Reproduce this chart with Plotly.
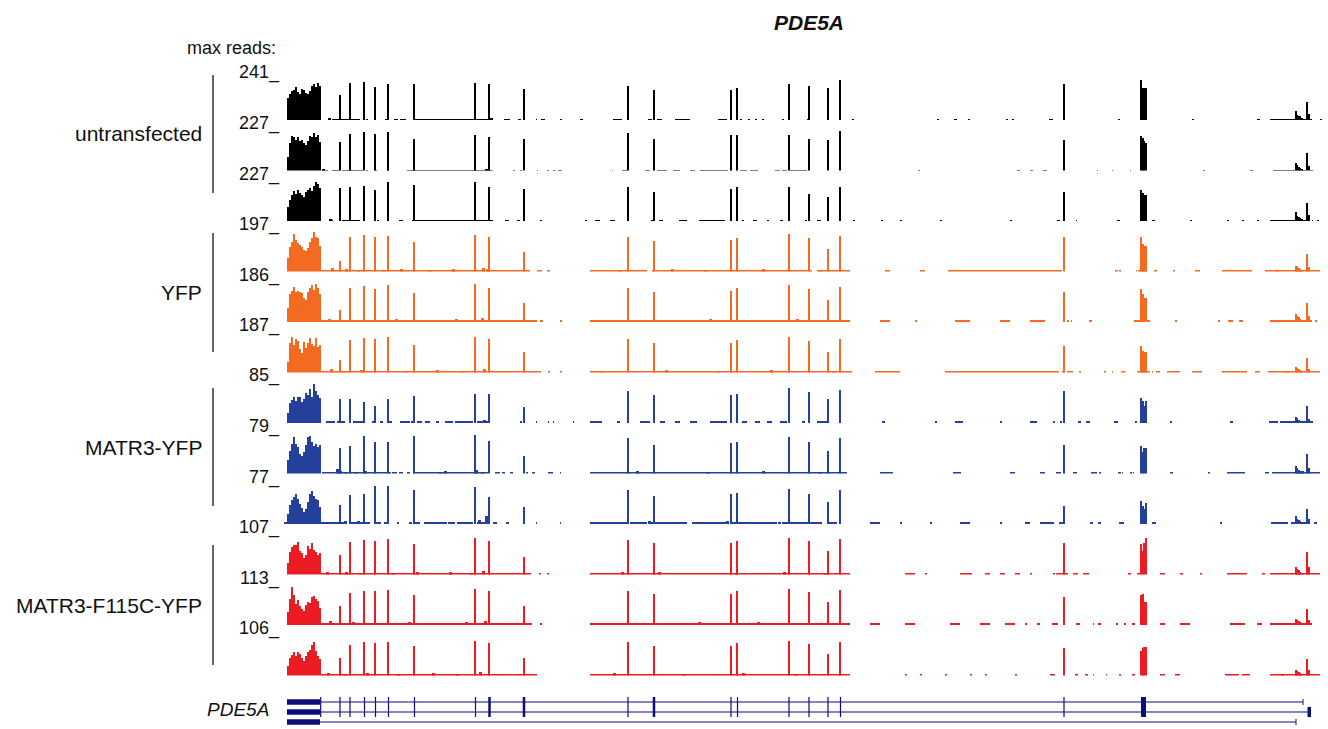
import plotly.graph_objects as go

# ---------------------------------------------------------------------------
# Data: RNA-seq read coverage over the PDE5A locus.
# Positions are in kb from the left edge of the locus; coverage values are
# given as percent of each track's maximum (max_reads).
# ---------------------------------------------------------------------------
track_groups = ["untransfected", "YFP", "MATR3-YFP", "MATR3-F115C-YFP"]
group_colors = ["#000000", "#F26B21", "#24409A", "#EC1C24"]
reps_per_group = 3

max_reads = [241, 227, 227, 197, 186, 187, 85, 79, 77, 107, 113, 106]

# terminal exon (long block at the left), 0.2 kb bins starting at 0 kb
block_bin_kb = 0.2
block_cov = [
    [56, 64, 72, 75, 82, 70, 66, 78, 75, 68, 64, 72, 84, 90, 82, 92, 86],
    [36, 70, 88, 84, 78, 86, 75, 78, 70, 66, 74, 88, 84, 94, 86, 90, 72],
    [36, 52, 64, 74, 68, 78, 70, 64, 60, 72, 78, 82, 74, 88, 97, 92, 82],
    [35, 62, 74, 94, 80, 72, 68, 62, 54, 52, 60, 76, 86, 99, 88, 84, 64],
    [36, 70, 78, 88, 74, 78, 76, 72, 60, 56, 74, 84, 92, 80, 95, 86, 70],
    [28, 76, 90, 70, 84, 80, 60, 50, 78, 62, 76, 88, 72, 68, 88, 66, 70],
    [24, 50, 58, 66, 56, 66, 64, 52, 60, 74, 70, 86, 66, 98, 80, 70, 62],
    [34, 58, 74, 92, 76, 68, 50, 44, 56, 72, 92, 96, 80, 70, 76, 68, 72],
    [26, 48, 60, 68, 76, 62, 50, 40, 30, 38, 56, 74, 82, 70, 62, 60, 42],
    [30, 58, 70, 76, 74, 82, 60, 56, 42, 50, 72, 66, 80, 62, 58, 50, 56],
    [32, 64, 96, 74, 52, 62, 48, 40, 36, 50, 58, 54, 70, 72, 66, 60, 42],
    [24, 44, 52, 60, 50, 60, 56, 44, 38, 50, 60, 66, 78, 86, 62, 50, 42],
]

# internal exons: positions (kb), exon width in the gene model (kb)
exon_kb = [5.3, 6.3, 7.75, 8.85, 10.15, 12.75, 18.85, 20.25, 23.7,
           34.1, 36.7, 44.4, 45.05, 50.2, 52.2, 54.1, 55.35, 77.7]
exon_width_kb = [0.12, 0.12, 0.12, 0.12, 0.12, 0.12, 0.12, 0.25, 0.25,
                 0.12, 0.25, 0.12, 0.12, 0.12, 0.12, 0.12, 0.12, 0.12]
exon_cov = [
    [63, 92, 95, 83, 89, 89, 92, 89, 77, 85, 76, 76, 81, 91, 85, 80, 99, 89],
    [72, 93, 98, 92, 98, 81, 89, 84, 81, 95, 79, 91, 91, 89, 81, 77, 99, 77],
    [83, 85, 88, 77, 98, 91, 98, 85, 80, 85, 73, 80, 85, 85, 67, 60, 85, 72],
    [28, 88, 93, 88, 90, 75, 92, 88, 50, 88, 78, 80, 86, 94, 84, 58, 90, 87],
    [30, 85, 90, 82, 92, 72, 95, 86, 48, 85, 76, 78, 84, 92, 82, 55, 88, 74],
    [32, 82, 88, 84, 90, 70, 90, 84, 52, 84, 74, 76, 82, 90, 80, 52, 86, 68],
    [59, 61, 53, 42, 61, 67, 73, 73, 40, 80, 70, 70, 72, 88, 78, 60, 82, 81],
    [65, 71, 95, 79, 79, 95, 98, 83, 45, 90, 72, 78, 80, 92, 80, 58, 90, 72],
    [47, 72, 76, 96, 96, 84, 93, 67, 42, 85, 70, 74, 78, 88, 76, 55, 86, 45],
    [50, 82, 88, 85, 90, 78, 92, 86, 45, 88, 80, 80, 86, 92, 84, 60, 90, 79],
    [48, 80, 86, 84, 88, 76, 90, 84, 48, 86, 78, 78, 84, 90, 82, 58, 88, 71],
    [46, 78, 84, 82, 86, 74, 88, 82, 46, 84, 76, 76, 82, 88, 80, 56, 86, 71],
]

# wide exon near the 5' end, sub-bins (kb)
wide_exon_kb = [85.45, 85.6, 85.75, 85.9]
wide_exon_cov = [
    [100, 79, 79, 79], [88, 83, 76, 70], [77, 69, 65, 65],
    [87, 69, 66, 66], [82, 69, 60, 60], [68, 56, 53, 53],
    [62, 54, 42, 54], [71, 55, 66, 66], [57, 45, 37, 53],
    [77, 60, 79, 93], [74, 77, 57, 57], [62, 69, 72, 72],
]

# first exon / promoter-proximal cluster at the right end (kb)
tail_kb = [100.9, 101.05, 101.2, 101.35, 101.5, 102.05, 102.2]
tail_cov = [
    [23, 12, 10, 10, 4, 44, 14],
    [21, 14, 10, 8, 4, 45, 12],
    [22, 12, 9, 8, 4, 45, 14],
    [16, 14, 10, 8, 4, 46, 12],
    [19, 14, 12, 8, 4, 48, 14],
    [14, 12, 9, 8, 4, 38, 10],
    [16, 12, 8, 6, 4, 43, 10],
    [21, 14, 10, 8, 4, 50, 16],
    [21, 12, 10, 8, 4, 38, 12],
    [21, 16, 12, 8, 6, 58, 20],
    [16, 12, 10, 8, 4, 40, 12],
    [15, 12, 10, 8, 4, 43, 14],
]

# low intronic coverage: [start_kb, end_kb] intervals and level (% of max)
background_pct = [2.5, 2.5, 2.5, 5, 5, 5, 4, 4.5, 4.5, 5, 5, 5]
background = [
    [[4.1, 4.3], [4.5, 7.3], [7.9, 8.1], [8.7, 8.9], [9.8, 10.1], [10.7, 11.1],
     [11.3, 11.9], [12.8, 20.6], [21.7, 22.3], [23.1, 23.4], [24.9, 25.0],
     [25.4, 25.8], [27.3, 27.5], [29.3, 29.6], [32.6, 33.5], [36.1, 36.5],
     [37.0, 37.5], [38.8, 40.3], [43.1, 44.0], [45.3, 45.5], [46.1, 46.3],
     [46.8, 47.0], [47.5, 47.7], [49.5, 49.7], [52.0, 52.3], [56.5, 56.7],
     [65.0, 65.2], [66.7, 67.0], [68.1, 68.3], [71.9, 72.1], [72.5, 72.7],
     [76.2, 76.6], [83.1, 83.3], [90.5, 90.7], [97.0, 97.3], [98.3, 100.9],
     [101.6, 102.0], [102.2, 102.5], [103.3, 103.5]],
    [[3.5, 4.1], [4.5, 5.3], [5.5, 7.6], [7.9, 8.1], [8.8, 9.0], [10.0, 10.2],
     [12.0, 20.6], [22.6, 22.8], [23.3, 23.5], [25.0, 25.1], [26.0, 26.2],
     [26.6, 26.8], [27.1, 27.5], [32.5, 32.6], [33.5, 34.0], [35.8, 36.3],
     [37.0, 38.0], [38.6, 39.3], [40.3, 40.8], [41.3, 44.1], [45.3, 46.0],
     [46.3, 47.1], [48.8, 49.3], [49.5, 50.0], [50.3, 52.0], [63.1, 63.3],
     [73.0, 73.3], [74.3, 74.6], [75.6, 76.0], [81.0, 81.1], [82.5, 82.6],
     [84.3, 84.4], [91.6, 91.8], [96.3, 96.6], [98.6, 100.8], [101.5, 101.9],
     [102.3, 102.6]],
    [[4.2, 4.6], [5.5, 7.3], [9.0, 9.2], [11.2, 11.6], [12.5, 20.6], [21.8, 22.2],
     [23.0, 23.3], [25.3, 25.5], [29.8, 30.0], [30.8, 31.3], [32.3, 32.8],
     [36.4, 36.8], [37.2, 37.6], [39.2, 40.0], [41.2, 43.8], [45.5, 45.7],
     [46.6, 47.0], [48.0, 48.2], [49.3, 49.6], [51.8, 52.0], [53.0, 53.4],
     [56.6, 56.8], [59.4, 59.6], [61.3, 61.5], [65.3, 65.5], [72.3, 72.5],
     [77.0, 77.3], [78.9, 79.0], [83.0, 83.3], [86.5, 86.8], [90.3, 90.5],
     [94.0, 94.2], [95.5, 95.7], [97.0, 97.2], [98.3, 100.9], [101.5, 102.0],
     [102.5, 102.6], [103.0, 103.2]],
    [[3.4, 24.3], [25.0, 25.5], [26.0, 26.3], [30.3, 36.0], [36.5, 52.5],
     [53.0, 56.3], [59.8, 60.3], [63.3, 63.8], [66.1, 77.5], [82.8, 83.1],
     [83.2, 83.4], [84.9, 85.0], [85.1, 86.0], [86.7, 87.0], [88.6, 88.8],
     [90.8, 91.3], [93.5, 96.5], [97.8, 103.3]],
    [[3.4, 25.0], [25.3, 25.6], [27.3, 27.5], [30.3, 56.3], [59.3, 60.3],
     [62.8, 63.0], [66.8, 68.3], [71.3, 72.3], [74.3, 75.8], [78.0, 78.2],
     [78.4, 78.5], [80.2, 80.5], [84.7, 86.3], [88.8, 89.0], [93.1, 93.3],
     [94.1, 94.6], [95.2, 95.6], [98.3, 102.5], [102.8, 103.0]],
    [[3.4, 25.4], [26.1, 26.3], [27.3, 27.5], [30.3, 56.5], [58.8, 61.3],
     [65.8, 77.2], [77.5, 77.8], [78.0, 78.6], [79.2, 79.4], [81.7, 81.9],
     [82.5, 82.6], [83.4, 83.8], [85.0, 86.3], [86.5, 86.6], [86.9, 87.3],
     [88.0, 89.3], [90.5, 91.5], [93.5, 96.0], [96.8, 97.3], [98.1, 103.3]],
    [[3.9, 4.8], [5.0, 5.8], [6.6, 7.6], [8.5, 8.8], [9.3, 9.6], [10.2, 10.5],
     [11.3, 12.3], [12.4, 12.7], [13.0, 13.5], [13.8, 14.3], [14.9, 15.2],
     [15.8, 16.6], [16.8, 18.6], [19.0, 20.1], [23.3, 23.5], [24.9, 25.0],
     [26.1, 26.2], [26.6, 26.7], [28.6, 28.7], [30.3, 31.5], [33.0, 33.3],
     [35.3, 36.3], [37.3, 37.8], [38.8, 39.3], [40.3, 41.0], [42.3, 44.0],
     [45.5, 46.0], [46.8, 47.3], [48.0, 48.5], [49.3, 50.0], [51.5, 51.8],
     [53.0, 54.0], [59.5, 59.8], [64.8, 65.0], [66.8, 67.6], [71.3, 71.5],
     [74.3, 75.0], [76.6, 76.8], [77.3, 77.5], [79.1, 79.4], [79.9, 80.3],
     [82.7, 83.1], [84.8, 85.0], [88.3, 88.5], [94.3, 94.6], [98.2, 99.1],
     [99.3, 102.6]],
    [[3.5, 10.4], [10.5, 11.0], [11.2, 11.6], [12.0, 12.3], [12.6, 20.1],
     [20.8, 21.3], [21.5, 21.8], [22.3, 22.6], [23.9, 24.1], [24.5, 24.8],
     [26.1, 26.6], [27.3, 27.4], [30.3, 56.0], [59.3, 60.6], [66.6, 67.4],
     [72.3, 72.8], [75.3, 75.8], [76.9, 77.4], [78.6, 79.0], [80.4, 81.0],
     [81.2, 81.4], [83.1, 83.4], [83.5, 83.6], [84.3, 84.5], [84.6, 84.7],
     [88.3, 88.6], [92.1, 92.3], [94.0, 95.8], [97.8, 98.2], [98.5, 103.3]],
    [[-0.3, 0.1], [3.4, 5.2], [5.3, 6.0], [6.4, 7.3], [7.3, 8.3], [8.8, 9.4],
     [9.7, 10.1], [11.0, 11.2], [12.2, 12.5], [12.6, 13.3], [13.7, 14.8],
     [15.0, 16.0], [16.1, 16.8], [17.0, 18.6], [19.0, 20.3], [20.6, 21.0],
     [21.9, 22.2], [24.9, 25.0], [27.3, 27.4], [30.3, 34.0], [34.3, 36.0],
     [36.4, 40.0], [40.5, 44.0], [44.5, 49.0], [49.5, 53.5], [54.0, 55.0],
     [58.3, 59.3], [61.3, 61.5], [64.3, 64.5], [67.3, 68.3], [71.3, 71.5],
     [73.8, 74.3], [75.3, 76.7], [77.2, 77.8], [80.3, 80.6], [81.1, 81.4],
     [83.2, 83.7], [86.5, 86.9], [93.3, 93.5], [98.4, 100.1], [100.4, 102.3],
     [102.7, 103.0]],
    [[3.4, 24.4], [25.2, 25.4], [26.0, 26.2], [30.3, 56.3], [61.8, 62.8],
     [63.8, 64.0], [67.3, 68.5], [69.8, 70.3], [71.3, 71.8], [72.8, 73.3],
     [74.3, 74.5], [76.6, 76.8], [76.9, 78.1], [78.6, 79.1], [79.6, 80.2],
     [84.1, 84.4], [85.0, 85.3], [87.3, 87.8], [89.3, 89.6], [91.3, 91.5],
     [94.0, 96.0], [97.5, 97.8], [98.3, 103.3]],
    [[3.4, 24.5], [25.3, 25.5], [30.3, 56.3], [58.3, 59.3], [61.8, 62.8],
     [66.3, 67.3], [69.3, 70.3], [71.8, 72.8], [73.8, 74.0], [75.0, 75.3],
     [76.5, 77.1], [78.9, 79.3], [80.6, 80.7], [81.1, 81.4], [82.9, 83.1],
     [83.7, 83.9], [84.5, 84.8], [87.3, 87.8], [89.3, 90.3], [94.3, 95.8],
     [97.0, 97.5], [98.3, 102.5]],
    [[3.4, 25.0], [30.3, 56.3], [61.8, 62.0], [63.3, 63.5], [65.8, 66.0],
     [68.3, 68.5], [69.8, 70.0], [72.8, 73.0], [76.3, 76.8], [78.8, 79.1],
     [79.8, 80.1], [80.6, 80.7], [81.9, 82.0], [83.2, 83.4], [84.5, 84.8],
     [87.3, 87.8], [88.8, 89.3], [93.8, 95.2], [95.5, 96.3], [98.3, 103.3]],
]

# small intronic read pile-ups: [position_kb, % of max]
bumps = [
    [[4.2, 5], [20.4, 6]],
    [[3.6, 5], [19.9, 6]],
    [[4.3, 5]],
    [[4.5, 9], [5.9, 7], [7.1, 6], [9.6, 6], [11.4, 7], [14.2, 6], [16.6, 8],
     [19.6, 10], [20.0, 7], [33.2, 6], [38.5, 7], [41.8, 6], [47.6, 8],
     [53.3, 6], [99.0, 6]],
    [[4.2, 8], [6.0, 6], [8.2, 6], [10.9, 7], [13.5, 6], [16.9, 7], [19.5, 9],
     [32.0, 6], [39.0, 6], [42.3, 7], [46.5, 6], [51.0, 7]],
    [[4.4, 9], [5.6, 6], [7.4, 7], [11.8, 6], [15.0, 7], [17.6, 6], [19.7, 10],
     [31.5, 6], [37.9, 7], [43.1, 6], [48.4, 8], [54.6, 6], [100.0, 6]],
    [[4.2, 6], [5.5, 6], [19.7, 8]],
    [[5.0, 12], [5.3, 8], [5.8, 6], [6.8, 6], [7.8, 8], [15.3, 6], [15.8, 8],
     [18.9, 10], [19.5, 6], [35.0, 8], [42.0, 6], [47.6, 7], [53.3, 6],
     [101.5, 8]],
    [[5.8, 8], [7.1, 8], [7.5, 6], [14.8, 6], [17.3, 6], [19.2, 10],
     [19.9, 20], [20.1, 14], [36.2, 7], [44.0, 7], [49.2, 6]],
    [[4.0, 8], [5.9, 7], [7.3, 6], [10.6, 6], [13.0, 8], [16.3, 7], [18.4, 6],
     [19.6, 11], [33.5, 7], [37.2, 8], [44.9, 6], [49.7, 7], [53.8, 6]],
    [[4.3, 9], [6.6, 7], [9.4, 6], [12.2, 7], [15.7, 6], [17.9, 8], [19.8, 10],
     [34.8, 6], [41.2, 8], [47.1, 7], [52.8, 6]],
    [[4.1, 8], [5.7, 6], [8.0, 7], [11.1, 6], [14.6, 8], [17.0, 6], [19.3, 9],
     [32.7, 7], [39.6, 6], [45.6, 8], [50.8, 6], [99.5, 6]],
]

# gene model (three transcripts); kb coordinates
utr_block_kb = [0.0, 3.3]
first_coding_exon_kb = 3.37
wide_exon_span_kb = [85.4, 85.9]
transcript_end_kb = [101.6, 102.1, 100.9]
transcript_has_exons = [True, True, False]

# ---------------------------------------------------------------------------
# Layout geometry (pixels of the 1328 x 729 canvas)
# ---------------------------------------------------------------------------
W, H = 1328, 729
X0_PX, X1_PX = 282, 1324           # plotting area
KB_PER_PX = 0.1
ORIGIN_PX = 287                    # pixel of 0 kb
TRACK_BASE0 = 120                  # baseline of first track
TRACK_STEP = 50.5
TRACK_H = 40
PEAK_W = 0.18
BUMP_W = 0.3
TEXT_COL = "#111111"


def py(px):
    return 1 - px / H


fig = go.Figure()
layout_axes = {}

xaxis_range = [(X0_PX - ORIGIN_PX) * KB_PER_PX, (X1_PX - ORIGIN_PX) * KB_PER_PX]
layout_axes["xaxis"] = dict(domain=[X0_PX / W, X1_PX / W], range=xaxis_range,
                            visible=False, fixedrange=True)

n_tracks = len(max_reads)
for i in range(n_tracks):
    color = group_colors[i // reps_per_group]
    scale = max_reads[i] / 100.0
    xs, ws, ys = [], [], []
    for s, e in background[i]:
        xs.append((s + e) / 2)
        ws.append(e - s)
        ys.append(background_pct[i] * scale)
    for x, v in bumps[i]:
        xs.append(x)
        ws.append(BUMP_W)
        ys.append(v * scale)
    for j, v in enumerate(block_cov[i]):
        xs.append((j + 0.5) * block_bin_kb)
        ws.append(block_bin_kb)
        ys.append(v * scale)
    for x, v in zip(exon_kb, exon_cov[i]):
        xs.append(x)
        ws.append(PEAK_W)
        ys.append(v * scale)
    for x, v in zip(wide_exon_kb, wide_exon_cov[i]):
        xs.append(x)
        ws.append(0.15)
        ys.append(v * scale)
    for x, v in zip(tail_kb, tail_cov[i]):
        xs.append(x)
        ws.append(0.15)
        ys.append(v * scale)

    yname = "y" if i == 0 else f"y{i + 1}"
    fig.add_trace(go.Bar(x=xs, y=ys, width=ws, xaxis="x", yaxis=yname,
                         marker=dict(color=color, line=dict(width=0)),
                         hoverinfo="skip", showlegend=False))
    base = TRACK_BASE0 + TRACK_STEP * i
    key = "yaxis" if i == 0 else f"yaxis{i + 1}"
    layout_axes[key] = dict(domain=[py(base), py(base - TRACK_H)],
                            range=[0, max_reads[i]], visible=False,
                            anchor="x", fixedrange=True)

    # max-reads label at the top of each track
    fig.add_annotation(x=282 / W, y=py(base - 47), xref="paper", yref="paper",
                       text=f"{max_reads[i]}_", showarrow=False,
                       xanchor="right", yanchor="middle",
                       font=dict(size=18, color=TEXT_COL))

# gene model axis
gy = f"y{n_tracks + 1}"
layout_axes[f"yaxis{n_tracks + 1}"] = dict(domain=[py(729), py(695)],
                                           range=[3.7, 0.3], visible=False,
                                           anchor="x", fixedrange=True)
# invisible trace to bind the gene axis to the x axis
fig.add_trace(go.Scatter(x=[0], y=[1], xaxis="x", yaxis=gy, mode="markers",
                         marker=dict(opacity=0), hoverinfo="skip",
                         showlegend=False))

EXON_COL = "#0E0E7A"
LINE_COL = "#8585C4"
shapes = []
for r, (end_kb, has_ex) in enumerate(zip(transcript_end_kb, transcript_has_exons), start=1):
    yref = gy
    # intron line
    shapes.append(dict(type="line", xref="x", yref=yref,
                       x0=utr_block_kb[1], x1=end_kb, y0=r, y1=r,
                       line=dict(color=LINE_COL, width=2)))
    # 3' UTR block
    shapes.append(dict(type="rect", xref="x", yref=yref,
                       x0=utr_block_kb[0], x1=utr_block_kb[1],
                       y0=r - 0.27, y1=r + 0.27,
                       fillcolor=EXON_COL, line=dict(width=0)))
    # end tick
    shapes.append(dict(type="rect", xref="x", yref=yref,
                       x0=end_kb - 0.05, x1=end_kb + (0.3 if r == 2 else 0.05),
                       y0=r - (0.5 if r == 2 else 0.3), y1=r + (0.5 if r == 2 else 0.3),
                       fillcolor=EXON_COL, line=dict(width=0)))
    if has_ex:
        shapes.append(dict(type="rect", xref="x", yref=yref,
                           x0=first_coding_exon_kb - 0.06, x1=first_coding_exon_kb + 0.06,
                           y0=r - 0.5, y1=r + 0.5,
                           fillcolor=EXON_COL, line=dict(width=0)))
        for x, w in zip(exon_kb, exon_width_kb):
            shapes.append(dict(type="rect", xref="x", yref=yref,
                               x0=x - w / 2, x1=x + w / 2, y0=r - 0.5, y1=r + 0.5,
                               fillcolor=EXON_COL, line=dict(width=0)))
        shapes.append(dict(type="rect", xref="x", yref=yref,
                           x0=wide_exon_span_kb[0], x1=wide_exon_span_kb[1],
                           y0=r - 0.5, y1=r + 0.5,
                           fillcolor=EXON_COL, line=dict(width=0)))

# group brackets and labels
group_bracket_px = [[75, 193], [233, 352], [388, 506], [545, 665]]
for name, (t, b) in zip(track_groups, group_bracket_px):
    shapes.append(dict(type="line", xref="paper", yref="paper",
                       x0=213 / W, x1=213 / W, y0=py(t), y1=py(b),
                       line=dict(color=TEXT_COL, width=1.3)))
    fig.add_annotation(x=204 / W, y=py((t + b) / 2), xref="paper", yref="paper",
                       text=name, showarrow=False, xanchor="right",
                       yanchor="middle", font=dict(size=21, color=TEXT_COL))

fig.add_annotation(x=231 / W, y=py(48), xref="paper", yref="paper",
                   text="max reads:", showarrow=False, xanchor="center",
                   yanchor="middle", font=dict(size=18, color=TEXT_COL))
fig.add_annotation(x=809 / W, y=py(22), xref="paper", yref="paper",
                   text="<b><i>PDE5A</i></b>", showarrow=False,
                   xanchor="center", yanchor="middle",
                   font=dict(size=21, color=TEXT_COL))
fig.add_annotation(x=271 / W, y=py(709), xref="paper", yref="paper",
                   text="<i>PDE5A</i>", showarrow=False, xanchor="right",
                   yanchor="middle", font=dict(size=19, color=TEXT_COL))

fig.update_layout(
    width=W, height=H,
    margin=dict(l=0, r=0, t=0, b=0),
    paper_bgcolor="white", plot_bgcolor="white",
    barmode="overlay", bargap=0, bargroupgap=0,
    font=dict(family="Liberation Sans, Arial, sans-serif"),
    shapes=shapes,
    **layout_axes,
)

fig.write_html("out.html", config={"displayModeBar": False})
